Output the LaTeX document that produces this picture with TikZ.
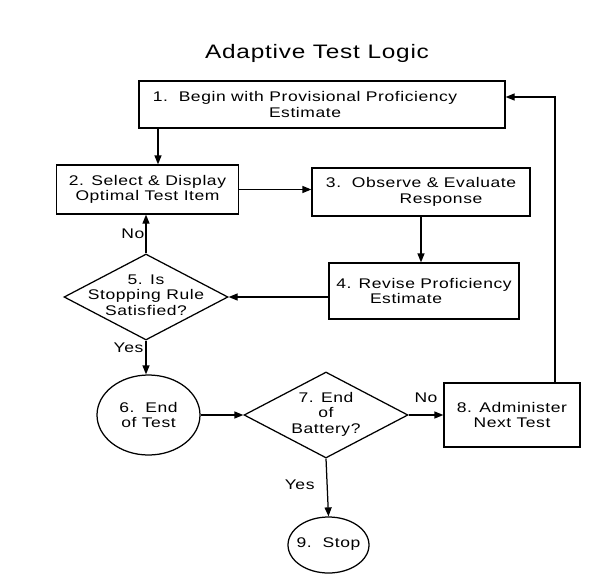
\documentclass[tikz,border=0pt]{standalone}
\usepackage{fontspec}
\setmainfont{Liberation Sans}[FakeStretch=1.25,LetterSpace=4]
\usetikzlibrary{positioning,arrows.meta,shapes.geometric}
\newcommand{\flowtext}[1]{\smash{\makebox[0pt]{\raisebox{-3pt}{\begin{tabular}{@{}c@{}}#1\end{tabular}}}}}

\begin{document}
\begin{tikzpicture}[x=1pt,y=-1pt, line width=1.25pt, >={Triangle[length=9pt,width=7pt]},
  every node/.style={font=\fontsize{14}{15.5}\selectfont,align=center,inner sep=0pt},
  box/.style={draw,line width=1.25pt},
  dec/.style={draw,diamond,line width=1.25pt,minimum width=164pt,minimum height=86pt},
  term/.style={draw,ellipse,line width=1.25pt}]
\useasboundingbox (0,0) rectangle (611,576);
\node (title) at (317,53) {\fontsize{19.5}{22}\selectfont Adaptive Test Logic};
\node[box,minimum width=366pt,minimum height=47pt] (begin) at (322,104.5) {1.~~Begin with Provisional Proficiency\hspace*{34pt}\\Estimate\hspace*{34pt}};
\node[box,minimum width=182pt,minimum height=49pt] (select) at (147.5,189.5) {2. Select \& Display\\Optimal Test Item};
\node[box,minimum width=218pt,minimum height=48pt] (observe) at (421,192) {3.~~Observe \& Evaluate\\\hspace*{40pt}Response};
\node[box,minimum width=190pt,minimum height=56pt] (revise) at (424,291) {4. Revise Proficiency\\Estimate\hspace*{36pt}};
\node[dec] (rule) at (146,297) {\flowtext{5. Is\\Stopping Rule\\Satisfied?}};
\node[term,minimum width=103pt,minimum height=80pt] (endtest) at (148.5,415) {6.~~End\\of Test};
\node[dec] (battery) at (326,415) {\flowtext{7. End\\of\\Battery?}};
\node[box,minimum width=136pt,minimum height=64pt] (next) at (512,415) {8. Administer\\Next Test};
\node[term,minimum width=81pt,minimum height=56pt] (stop) at (328.5,545) {\flowtext{9.~~Stop}};
\draw[->] ([xshift=10.5pt]select.north |- begin.south) -- ([xshift=10.5pt]select.north);
\draw[->] (select.east) -- (select.east -| observe.west);
\draw[->] (observe.south) -- (observe.south |- revise.north);
\draw[->] (revise.west |- rule.east) -- (rule.east);
\draw[->] (rule.north) -- (rule.north |- select.south) node[pos=.5,left=1pt]{No};
\draw[->] (rule.south) -- (rule.south |- endtest.north) node[pos=.2,left=2pt]{Yes};
\draw[->] (endtest.east) -- (battery.west);
\draw[->] (battery.east) -- (next.west) node[midway,above=12pt]{No};
\draw[->] (battery.south) -- (stop.north) node[pos=.46,left=12pt]{Yes};
\draw[->] ([xshift=43pt]next.north) |- ([yshift=7.5pt]begin.east);
\end{tikzpicture}
\end{document}
